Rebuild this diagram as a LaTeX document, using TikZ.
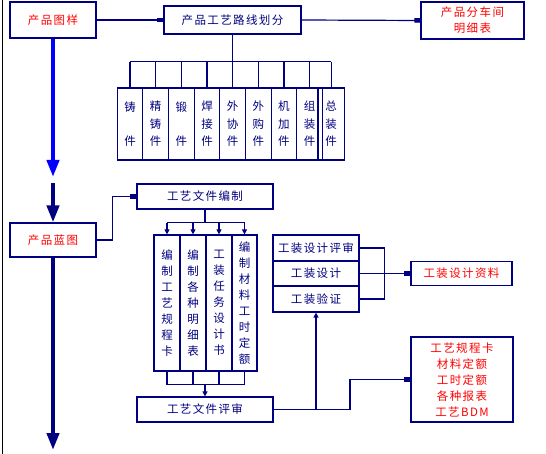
\documentclass[tikz,border=0pt]{standalone}
\usepackage{fontspec}
\setmainfont[LetterSpace=12]{Noto Sans CJK SC}
\usetikzlibrary{arrows.meta}
\definecolor{navy}{RGB}{0,0,128}
\definecolor{brightblue}{RGB}{0,0,255}
\begin{document}
\begin{tikzpicture}[x=1pt,y=-1pt,
  box/.style={draw=navy,line width=1.2pt,inner sep=0pt,align=center,
    font=\fontsize{11.5}{16}\selectfont,text=navy},
  redtxt/.style={text=red},
  col/.style={box,minimum height=72pt,font=\fontsize{11.5}{17.4}\selectfont},
  kcol/.style={box,minimum width=26pt,minimum height=136pt},
  conn/.style={draw=navy,line width=1.2pt},
  sqarrow/.style={conn,-{Rectangle[length=6pt,width=4.5pt]}},
  triarrow/.style={conn,-{Triangle[length=5pt,width=5pt]}},
  bigarrow/.style={line width=4pt,-{Triangle[length=17pt,width=12pt]}}
]
\useasboundingbox (0,0) rectangle (546,454);
\fill[white] (0,0) rectangle (546,454);
% left border
\coordinate (lt) at (2,0);
\coordinate (lb) at (2,454);
\draw[black,line width=1pt] (lt) -- (lb);

% top row
\node[box,redtxt,minimum width=86pt,minimum height=36pt] (tuyang) at (53,20) {产品图样};
\node[box,minimum width=137pt,minimum height=28pt] (luxian) at (232.5,20) {产品工艺路线划分};
\node[box,redtxt,minimum width=103pt,minimum height=37pt] (chejian) at (472.5,20.5) {产品分车间\\明细表};
\draw[sqarrow] (tuyang.east) -- (luxian.west);
\draw[sqarrow] (luxian.east) -- (chejian.west);

% parts columns
\node[col,minimum width=25.5pt] (c1) at (130,124) {铸\\[17pt]件};
\node[col,minimum width=25.7pt] (c2) at (155.65,124) {精\\铸\\件};
\node[col,minimum width=25.8pt] (c3) at (181.4,124) {锻\\[17pt]件};
\node[col,minimum width=25.4pt] (c4) at (207,124) {焊\\接\\件};
\node[col,minimum width=25.8pt] (c5) at (232.6,124) {外\\协\\件};
\node[col,minimum width=25.7pt] (c6) at (258.35,124) {外\\购\\件};
\node[col,minimum width=25.5pt] (c7) at (283.95,124) {机\\加\\件};
\node[col,minimum width=25.7pt] (c8) at (309.55,124) {组\\装\\件};
\node[col,minimum width=26.4pt] (c9) at (331.2,124) {总\\装\\件};
\draw[conn] (luxian.south) -- ++(0,27) coordinate (bus1);
\draw[conn] (c1.north |- bus1) -- (c9.north |- bus1);
\foreach \i in {1,...,9}{\draw[conn] (c\i.north |- bus1) -- (c\i.north);}

% big arrows
\coordinate (bluetip) at (53,177);
\coordinate (navystart) at (53,183);
\coordinate (bottomtip) at (53,450);
\draw[bigarrow,brightblue] (tuyang.south) -- (bluetip);
\node[box,redtxt,minimum width=86pt,minimum height=34pt] (lantu) at (53,240) {产品蓝图};
\draw[bigarrow,navy] (navystart) -- (lantu.north);
\draw[bigarrow,navy] (lantu.south) -- (bottomtip);

% process documents
\node[box,minimum width=136pt,minimum height=25pt] (bianzhi) at (205,196.5) {工艺文件编制};
\draw[sqarrow] (lantu.east) -- ++(16,0) |- (bianzhi.west);
\node[kcol] (k1) at (167,303) {编\\制\\工\\艺\\规\\程\\卡};
\node[kcol] (k2) at (193,303) {编\\制\\各\\种\\明\\细\\表};
\node[kcol] (k3) at (219,303) {工\\装\\任\\务\\设\\计\\书};
\node[kcol,minimum width=25pt] (k4) at (244.5,303) {编\\制\\材\\料\\工\\时\\定\\额};
\draw[conn] (bianzhi.south) -- ++(0,13) coordinate (bus2);
\draw[conn] (k1.north |- bus2) -- (k4.north |- bus2);
\foreach \i in {1,...,4}{\draw[triarrow] (k\i.north |- bus2) -- (k\i.north);}
\node[box,minimum width=136pt,minimum height=25pt] (pingshen) at (205,409.5) {工艺文件评审};
\draw[conn] (k1.south) -- ++(0,13) coordinate (bus3);
\draw[conn] (bus3) -- (bus3 -| k4.south);
\foreach \i in {2,3,4}{\draw[conn] (k\i.south) -- (k\i.south |- bus3);}
\draw[triarrow] (bus3 -| pingshen.north) -- (pingshen.north);

% tooling stack
\node[box,minimum width=86pt,minimum height=26pt] (gz1) at (316,248) {工装设计评审};
\node[box,minimum width=86pt,minimum height=25pt] (gz2) at (316,273.5) {工装设计};
\node[box,minimum width=86pt,minimum height=26pt] (gz3) at (316,299) {工装验证};
\node[box,redtxt,minimum width=101pt,minimum height=24pt] (ziliao) at (461.5,273.5) {工装设计资料};
\draw[conn] (gz1.east) -- ++(25,0) |- (gz3.east);
\draw[sqarrow] (gz2.east) -- (ziliao.west);

% results
\node[box,redtxt,minimum width=102pt,minimum height=85pt] (results) at (462,379.5)
  {工艺规程卡\\材料定额\\工时定额\\各种报表\\工艺BDM};
\coordinate (junc) at (pingshen.east -| gz3.south);
\draw[conn] (pingshen.east) -- (junc);
\draw[triarrow] (junc) -- (gz3.south);
\draw[sqarrow] (junc) -- ++(34,0) |- (results.west);
\end{tikzpicture}
\end{document}
